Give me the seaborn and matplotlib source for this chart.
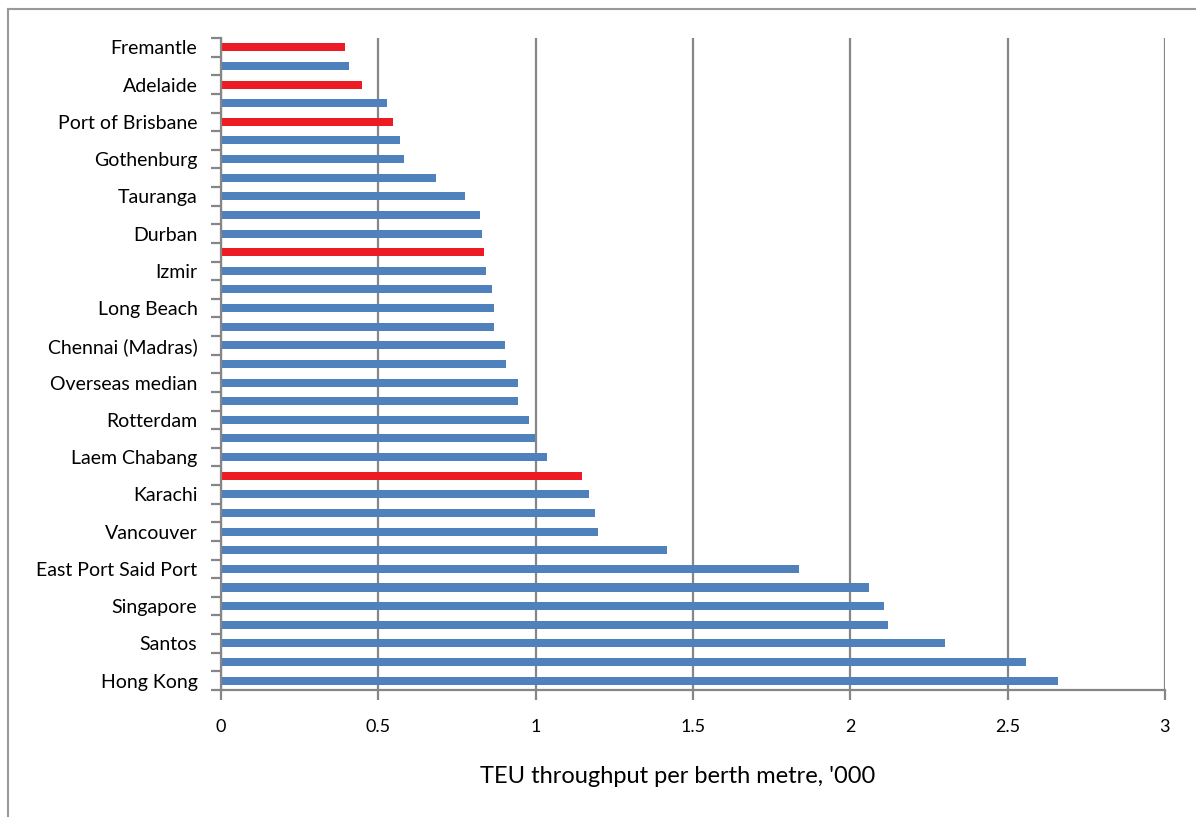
import matplotlib
matplotlib.use("Agg")
import matplotlib.pyplot as plt
from matplotlib.lines import Line2D
import seaborn as sns
import numpy as np
import pandas as pd

# ports from top to bottom, Excel only shows every other label
labels = [
    "Fremantle", "", "Adelaide", "", "Port of Brisbane", "", "Gothenburg", "",
    "Tauranga", "", "Durban", "", "Izmir", "", "Long Beach", "",
    "Chennai (Madras)", "", "Overseas median", "", "Rotterdam", "",
    "Laem Chabang", "", "Karachi", "", "Vancouver", "", "East Port Said Port", "",
    "Singapore", "", "Santos", "", "Hong Kong",
]
teu = [
    0.394, 0.408, 0.448, 0.529, 0.547, 0.568, 0.583, 0.684,
    0.777, 0.824, 0.828, 0.836, 0.841, 0.862, 0.867, 0.867,
    0.901, 0.907, 0.945, 0.945, 0.979, 0.999,
    1.037, 1.146, 1.169, 1.190, 1.197, 1.418, 1.838, 2.060,
    2.108, 2.121, 2.302, 2.560, 2.660,
]
australian = [0, 2, 4, 11, 23]  # rows drawn in red

blue = "#4F81BD"
red = "#ED1C24"
grey = "#868686"


def main():
    df = pd.DataFrame({
        "rank": np.arange(len(teu)),
        "teu": teu,
        "group": ["Australia" if i in australian else "Overseas" for i in range(len(teu))],
    })

    plt.rcParams["font.family"] = ["Lato", "DejaVu Sans"]
    fig = plt.figure(figsize=(11.96, 8.17), dpi=100)
    ax = fig.add_axes([0.1848, 0.1555, 0.974 - 0.1848, 0.9535 - 0.1555])

    sns.barplot(
        data=df, x="teu", y="rank", hue="group", orient="h", dodge=False,
        palette={"Australia": red, "Overseas": blue}, width=0.43,
        saturation=1, legend=False, ax=ax,
    )

    ax.set_xlim(0, 3)
    ax.set_ylim(len(teu) - 0.5, -0.5)
    ax.set_xticks(np.arange(0, 3.01, 0.5))
    ax.set_xticklabels(["0", "0.5", "1", "1.5", "2", "2.5", "3"], fontsize=13)
    ax.xaxis.grid(True, color=grey, lw=1.6)
    ax.set_axisbelow(True)

    ax.set_yticks(np.arange(len(teu)))
    ax.set_yticklabels(labels, fontsize=14)
    ax.set_yticks(np.arange(-0.5, len(teu)), minor=True)
    ax.tick_params(axis="y", which="major", length=0, pad=17)
    ax.tick_params(axis="y", which="minor", length=7, width=1.6, color=grey)
    ax.tick_params(axis="x", length=7, width=1.6, color=grey, pad=14)

    ax.set_ylabel("")
    ax.set_xlabel("TEU throughput per berth metre, '000", fontsize=17)
    ax.xaxis.set_label_coords((678 - 221) / 944, -0.117)

    for side in ["top", "right"]:
        ax.spines[side].set_visible(False)
    for side in ["left", "bottom"]:
        ax.spines[side].set_color(grey)
        ax.spines[side].set_linewidth(1.6)

    # chart area border (only top and left survive the crop)
    fig.add_artist(Line2D([8 / 1196, 1], [1 - 9 / 817] * 2, color="#999999", lw=1.5))
    fig.add_artist(Line2D([8 / 1196] * 2, [0, 1 - 9 / 817], color="#999999", lw=1.5))

    fig.savefig("out.png", dpi=100)
    plt.close(fig)


if __name__ == "__main__":
    main()
